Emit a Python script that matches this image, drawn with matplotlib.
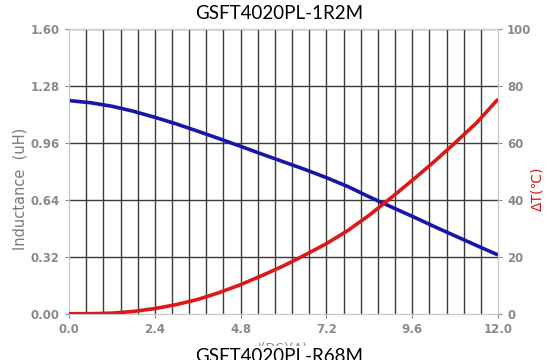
import numpy as np
import matplotlib.pyplot as plt

# dados
corrente = [0.0, 0.6, 1.2, 1.8, 2.4, 3.0, 3.6, 4.2, 4.8, 5.4, 6.0,
            6.6, 7.2, 7.8, 8.4, 9.0, 9.6, 10.2, 10.8, 11.4, 12.0]
indutancia = [1.197, 1.185, 1.165, 1.137, 1.103, 1.066, 1.025, 0.983, 0.94, 0.896, 0.853,
              0.81, 0.764, 0.714, 0.656, 0.601, 0.547, 0.491, 0.437, 0.383, 0.33]
delta_t = [0.0, 0.0, 0.2, 0.8, 1.8, 3.2, 5.0, 7.4, 10.2, 13.4, 16.8,
           20.6, 24.6, 29.2, 34.6, 40.6, 46.8, 53.2, 60.0, 67.0, 75.3]
ticks_x = [0.0, 2.4, 4.8, 7.2, 9.6, 12.0]
ticks_l = [0.00, 0.32, 0.64, 0.96, 1.28, 1.60]
ticks_r = [0, 20, 40, 60, 80, 100]

fig = plt.figure(figsize=(5.58, 3.6), dpi=100)
ax = fig.add_axes([0.1237, 0.1286, 0.7688, 0.7914])
ax2 = ax.twinx()

cinza = '#8a8a8a'

# grade
for gx in np.arange(0.48, 12.0, 0.48):
    ax.axvline(gx, color='#3a3a3a', lw=1.0, zorder=1)
for gy in ticks_l[1:-1]:
    ax.axhline(gy, color='#3a3a3a', lw=1.0, zorder=1)
ax.axhline(1.60, color='#777777', lw=1.0, zorder=1)

ax.plot(corrente, indutancia, color='#1616aa', lw=2.6, zorder=3, solid_capstyle='butt')
ax2.plot(corrente, delta_t, color='#dd1818', lw=2.6, zorder=3, solid_capstyle='butt')

ax.set_xlim(0, 12)
ax.set_ylim(0, 1.6)
ax2.set_ylim(0, 100)
ax.set_xticks(ticks_x)
ax.set_xticklabels([f'{v:.1f}' for v in ticks_x])
ax.set_yticks(ticks_l)
ax.set_yticklabels([f'{v:.2f}' for v in ticks_l])
ax2.set_yticks(ticks_r)

for a in (ax, ax2):
    for s in a.spines.values():
        s.set_color('#c8c8c8')
    a.tick_params(colors=cinza, labelsize=8.5, length=3, width=0.8)
for lab in ax.get_xticklabels() + ax.get_yticklabels() + ax2.get_yticklabels():
    lab.set_fontweight('bold')
    lab.set_color(cinza)

fig.text(0.036, 0.475, 'Inductance  (uH)', rotation=90, color='#7a7a7a',
         fontsize=10.5, ha='center', va='center')
fig.text(0.963, 0.475, 'ΔT(℃)', rotation=90, color='#dd1818',
         fontsize=10, ha='center', va='center')

fig.text(0.5, 0.962, 'GSFT4020PL-1R2M', fontsize=13.5, ha='center', va='center',
         family='Lato')
# rótulo do eixo x, quase todo escondido pelo título do gráfico seguinte
fig.text(0.507, 0.032, 'I(DC)(A)', fontsize=9, color=cinza, ha='center', va='center')
fig.text(0.5, -0.006, 'GSFT4020PL-R68M', fontsize=13.5, ha='center', va='baseline',
         family='Lato',
         bbox=dict(facecolor='white', edgecolor='none', pad=1.5))

fig.savefig('out.png', dpi=100)
